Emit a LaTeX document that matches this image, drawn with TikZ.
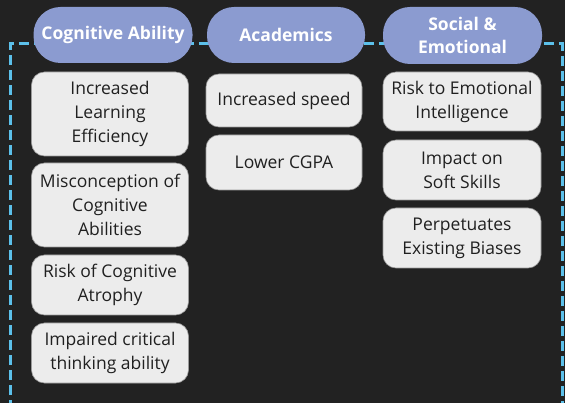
\documentclass[tikz,border=0pt]{standalone}
\usepackage{fontspec}
\setmainfont{Open Sans}
\definecolor{bg}{HTML}{222222}
\definecolor{pill}{HTML}{8B9BD0}
\definecolor{boxfill}{HTML}{ECECEC}
\definecolor{boxline}{HTML}{9A9A9A}
\definecolor{dashblue}{HTML}{5CC0EA}
\definecolor{txt}{HTML}{202020}
\tikzset{
  pillbox/.style={fill=pill, draw=none, rounded corners=27pt, text=white, font=\fontsize{17.5}{23.5}\selectfont\bfseries, align=center},
  itembox/.style={fill=boxfill, draw=boxline, line width=0.6pt, rounded corners=13pt, text=txt, font=\fontsize{17.5}{24}\selectfont, align=center},
}
\begin{document}
\begin{tikzpicture}[x=1pt,y=1pt]
\fill[bg] (0,0) rectangle (565,-403);
\useasboundingbox (0,0) rectangle (565,-403);
\coordinate (bl) at (10,-410);
\coordinate (tr) at (562,-44);
\coordinate (br) at (562,-410);
\draw[draw=dashblue, line width=3pt, dash pattern=on 10pt off 5pt] (bl) |- (tr) -- (br);
% headers
\node[pillbox, minimum width=159pt, minimum height=56pt, inner sep=0pt] (h1) at (113,-35) {Cognitive Ability};
\node[pillbox, minimum width=158pt, minimum height=56pt, inner sep=0pt] (h2) at (286,-35) {Academics};
\node[pillbox, minimum width=159pt, minimum height=57pt, inner sep=0pt] (h3) at (462.5,-35.5) {Social \&\\Emotional};
% column 1
\node[itembox, minimum width=157pt, minimum height=84pt, inner sep=0pt] (a1) at (110,-114) {Increased\\Learning\\Efficiency};
\node[itembox, minimum width=157pt, minimum height=84pt, inner sep=0pt] (a2) at (110,-205) {Misconception of\\Cognitive\\Abilities};
\node[itembox, minimum width=157pt, minimum height=60pt, inner sep=0pt] (a3) at (110,-285) {Risk of Cognitive\\Atrophy};
\node[itembox, minimum width=157pt, minimum height=60pt, inner sep=0pt] (a4) at (110,-353) {Impaired critical\\thinking ability};
% column 2
\node[itembox, minimum width=156pt, minimum height=53pt, inner sep=0pt] (b1) at (284,-100.5) {Increased speed};
\node[itembox, minimum width=156pt, minimum height=55pt, inner sep=0pt] (b2) at (284,-162.5) {Lower CGPA};
% column 3
\node[itembox, minimum width=158pt, minimum height=59pt, inner sep=0pt] (c1) at (462,-101.5) {Risk to Emotional\\Intelligence};
\node[itembox, minimum width=158pt, minimum height=60pt, inner sep=0pt] (c2) at (462,-170) {Impact on\\Soft Skills};
\node[itembox, minimum width=158pt, minimum height=60pt, inner sep=0pt] (c3) at (462,-238) {Perpetuates\\Existing Biases};
\end{tikzpicture}
\end{document}
